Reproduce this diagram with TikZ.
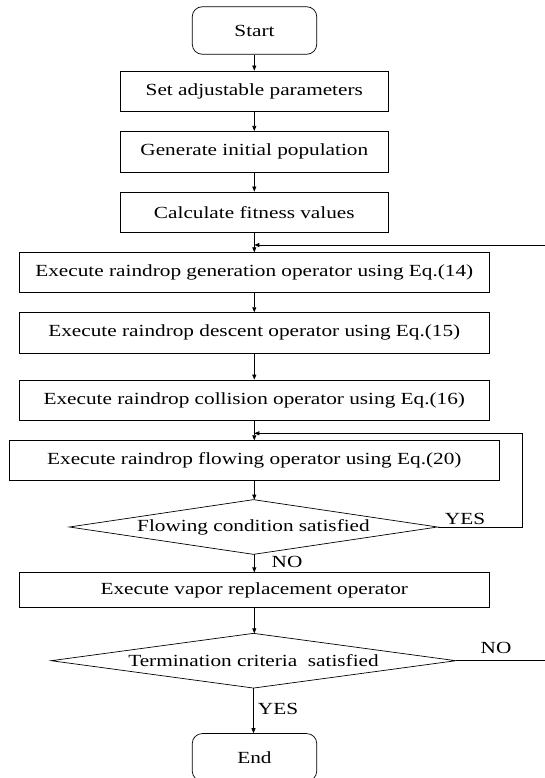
\documentclass[tikz,border=0pt]{standalone}
\usepackage{fontspec}
\setmainfont{Liberation Serif}[FakeStretch=1.25]
\usetikzlibrary{arrows.meta}
\begin{document}
\begin{tikzpicture}[x=1pt,y=-1pt,
  font=\fontsize{17}{19}\selectfont,
  line width=0.7pt,
  procbox/.style={draw, rectangle, inner sep=0pt, minimum height=40pt},
  termbox/.style={draw, rectangle, rounded corners=10pt, inner sep=0pt, minimum width=124.5pt, minimum height=47.5pt},
  decbox/.style={rectangle, inner sep=0pt, minimum height=54pt},
  flow/.style={-{Triangle[length=5pt,width=4pt]}},
  lbl/.style={inner sep=0pt}
]
\useasboundingbox (0,0) rectangle (544,778);
% nodes
\node[termbox] (start) at (254.5,30.5) {Start};
\node[procbox, minimum width=268.7pt, minimum height=40.7pt] (b1) at (254.3,91.3) {Set adjustable parameters};
\node[procbox, minimum width=268.7pt, minimum height=40.7pt] (b2) at (254.3,151.7) {Generate initial population};
\node[procbox, minimum width=268.7pt, minimum height=40.7pt] (b3) at (254.3,212.3) {Calculate fitness values};
\node[procbox, minimum width=470pt, minimum height=39.6pt] (b4) at (254.3,272.5) {Execute raindrop generation operator using Eq.(14)};
\node[procbox, minimum width=470pt, minimum height=40.3pt] (b5) at (254.3,332.8) {Execute raindrop descent operator using Eq.(15)};
\node[procbox, minimum width=470pt, minimum height=40pt] (b6) at (254.3,400) {Execute raindrop collision operator using Eq.(16)};
\node[procbox, minimum width=490pt, minimum height=39.3pt] (b7) at (254.3,460.3) {Execute raindrop flowing operator using Eq.(20)};
\node[decbox, minimum width=367.4pt] (d1) at (253.5,527) {Flowing condition satisfied};
\draw (d1.west) -- (d1.north) -- (d1.east) -- (d1.south) -- cycle;
\node[procbox, minimum width=470pt, minimum height=34.5pt] (b8) at (254.3,590) {Execute vapor replacement operator};
\node[decbox, minimum width=404pt] (d2) at (253.5,660.7) {Termination criteria~ satisfied};
\draw (d2.west) -- (d2.north) -- (d2.east) -- (d2.south) -- cycle;
\node[termbox] (end) at (254.5,757.3) {End};
% labels
\node[lbl] (yes1) at (465,519) {YES};
\node[lbl] (no1) at (287,562) {NO};
\node[lbl] (no2) at (496,648) {NO};
\node[lbl] (yes2) at (278,709) {YES};
% junction coordinates
\coordinate (j1) at (254.3,245);
\coordinate (r1) at (552,245);
\coordinate (j2) at (254.3,433.3);
\coordinate (r2) at (522.7,433.3);
% connectors
\draw[flow] (start.south -| b1.north) -- (b1.north);
\draw[flow] (b1) -- (b2);
\draw[flow] (b2) -- (b3);
\draw[flow] (b3) -- (b4);
\draw[flow] (b4) -- (b5);
\draw[flow] (b5) -- (b6);
\draw[flow] (b6) -- (b7);
\draw[flow] (b7.south) -- (d1.north -| b7.south);
\draw[flow] (d1.south -| b8.north) -- (b8.north);
\draw[flow] (b8.south) -- (d2.north -| b8.south);
\draw[flow] (d2.south) -- (end.north -| d2.south);
\draw[flow] (d1.east) -| (r2) -- (j2);
\draw[flow] (d2.east) -| (r1) -- (j1);
\end{tikzpicture}
\end{document}
